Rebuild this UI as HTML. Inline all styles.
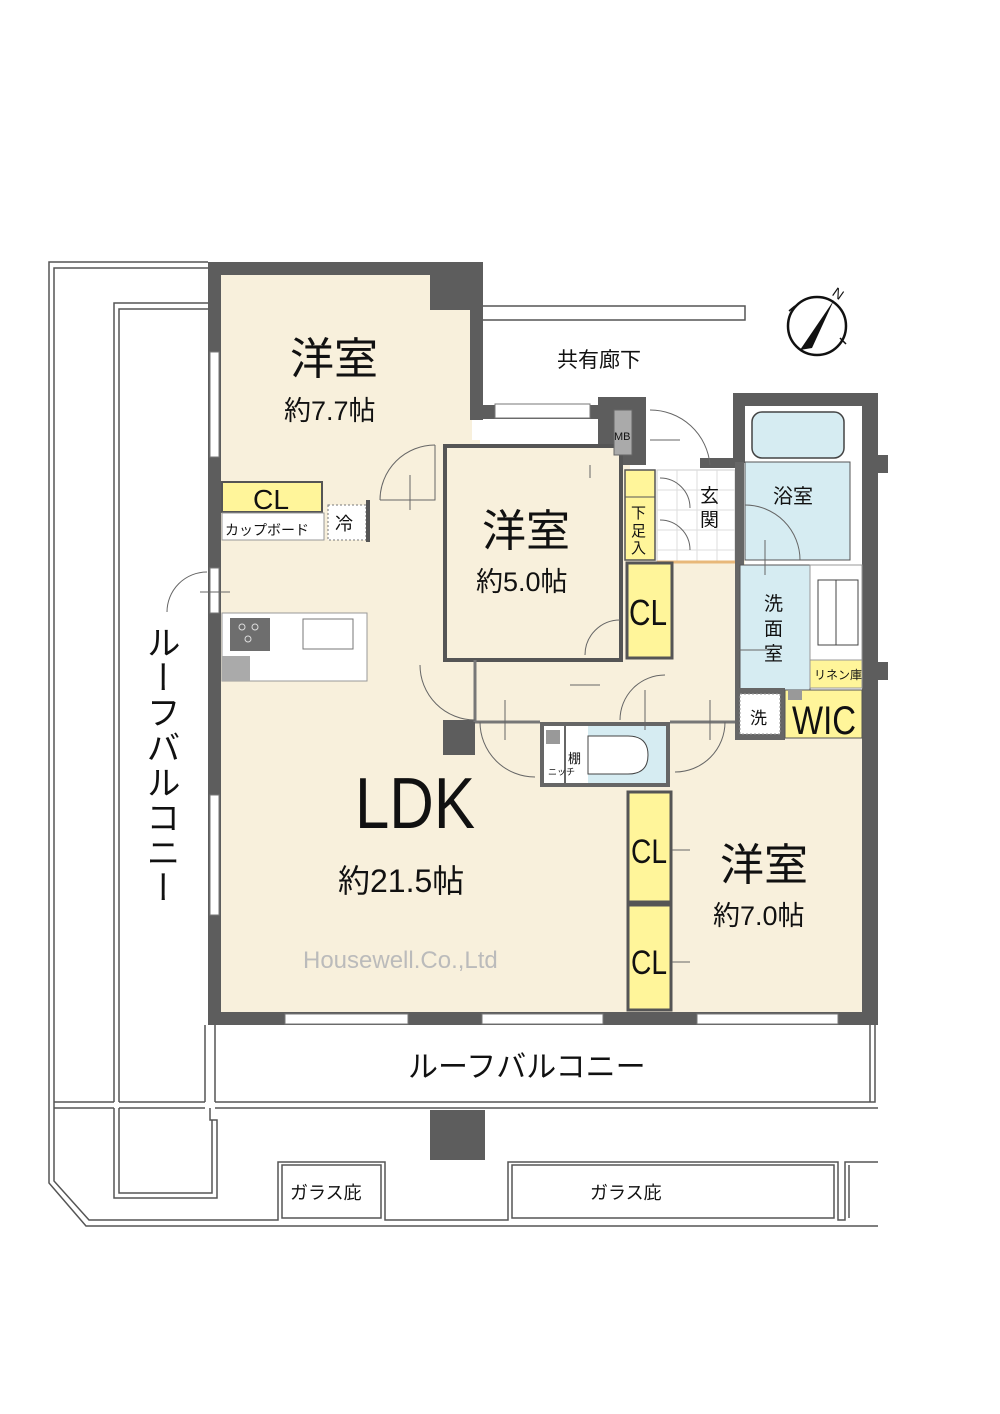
<!DOCTYPE html>
<html><head><meta charset="utf-8"><style>
html,body{margin:0;padding:0;background:#fff}
svg{display:block}
text{font-family:"Liberation Sans","Noto Sans CJK JP",sans-serif;fill:#111}
</style></head><body>
<svg width="1000" height="1414" viewBox="0 0 1000 1414" xmlns="http://www.w3.org/2000/svg">
<g fill="none" stroke="#555" stroke-width="1.5">
<path d="M208 262 H49 V1183 L86 1226 H878"/>
<path d="M208 268 H54 V1181 L89 1220 H278 V1162 H385 V1220 H508 V1162 H838 V1220 H845 V1162 H878"/>
<path d="M208 303 H114 V1102"/>
<path d="M208 309 H119 V1102"/>
<path d="M54 1102 H114 M119 1102 H205 M215 1102 H875 V1025"/>
<path d="M54 1108 H114 M119 1108 H205 M215 1108 H878"/>
<path d="M114 1108 V1198 H217 V1120 H210 V1108"/>
<path d="M119 1108 V1193 H212 V1120"/>
<path d="M205 1025 V1102 M215 1025 V1102"/>
<path d="M870 1025 V1102"/>
<path d="M282 1165 H381 V1218 H282 Z"/>
<path d="M512 1165 H834 V1218 H512 Z"/>
<path d="M849 1165 V1218"/>
<path d="M483 306 H745 V320 H483"/>
</g>
<rect x="220" y="274" width="252" height="560" fill="#f8f0dc"/>
<rect x="220" y="440" width="410" height="575" fill="#f8f0dc"/>
<rect x="620" y="560" width="125" height="170" fill="#f8f0dc"/>
<rect x="620" y="730" width="245" height="285" fill="#f8f0dc"/>
<rect x="480" y="420" width="125" height="25" fill="#fff"/>
<g fill="#5d5d5d">
<rect x="208" y="262" width="13" height="763"/>
<rect x="208" y="262" width="275" height="13"/>
<rect x="430" y="262" width="53" height="48"/>
<rect x="470" y="262" width="13" height="158"/>
<rect x="470" y="405" width="135" height="14"/>
<rect x="598" y="397" width="48" height="68"/>
<rect x="208" y="1012" width="670" height="13"/>
<rect x="862" y="393" width="16" height="632"/>
<rect x="733" y="393" width="145" height="13"/>
<rect x="733" y="393" width="12" height="70"/>
<rect x="700" y="458" width="40" height="10"/>
<rect x="878" y="455" width="10" height="18"/>
<rect x="878" y="662" width="10" height="18"/>
<rect x="443" y="720" width="32" height="35"/>
<rect x="430" y="1110" width="55" height="50"/>
</g>
<g fill="#fff" stroke="#777" stroke-width="1">
<rect x="210" y="352" width="9" height="105"/>
<rect x="210" y="568" width="9" height="45"/>
<rect x="210" y="795" width="9" height="120"/>
<rect x="285" y="1014" width="123" height="10"/>
<rect x="482" y="1014" width="121" height="10"/>
<rect x="697" y="1014" width="141" height="10"/>
<rect x="495" y="404" width="95" height="14"/>
</g>
<rect x="445" y="446" width="176" height="214" fill="#f8f0dc" stroke="#555" stroke-width="4"/>
<rect x="614" y="410" width="18" height="45" fill="#aaa" stroke="#666"/>
<text x="614" y="440" font-size="11">MB</text>
<rect x="657" y="470" width="78" height="92" fill="#fff" stroke="#ccc"/>
<g stroke="#ddd" stroke-width="1"><path d="M657 490H735M657 510H735M657 530H735M657 550H735M677 470V562M697 470V562M717 470V562"/></g>
<line x1="657" y1="562" x2="735" y2="562" stroke="#e8b87a" stroke-width="3"/>
<rect x="625" y="470" width="30" height="90" fill="#fff59a" stroke="#555" stroke-width="1.5"/>
<line x1="625" y1="497" x2="655" y2="497" stroke="#555"/>
<text x="631" y="518" font-size="15">下</text><text x="631" y="536" font-size="15">足</text><text x="631" y="553" font-size="15">入</text>
<text x="700" y="502" font-size="19">玄</text><text x="700" y="526" font-size="19">関</text>
<rect x="735" y="462" width="9" height="260" fill="#666"/>
<rect x="745" y="406" width="117" height="156" fill="#fff"/>
<rect x="745" y="462" width="105" height="98" fill="#d6ecf2" stroke="#555"/>
<rect x="752" y="412" width="92" height="46" rx="10" fill="#d6ecf2" stroke="#444" stroke-width="1.5"/>
<text x="773" y="503" font-size="20">浴室</text>
<rect x="740" y="565" width="70" height="125" fill="#d6ecf2" stroke="#555"/>
<rect x="810" y="565" width="52" height="95" fill="#fff" stroke="#999"/>
<rect x="818" y="580" width="40" height="65" fill="#fff" stroke="#444"/>
<line x1="836" y1="580" x2="836" y2="645" stroke="#444"/>
<rect x="810" y="660" width="52" height="28" fill="#fff59a" stroke="#999"/>
<text x="814" y="679" font-size="12">リネン庫</text>
<text x="764" y="610" font-size="19">洗</text><text x="764" y="635" font-size="19">面</text><text x="764" y="660" font-size="19">室</text>
<rect x="735" y="688" width="50" height="52" fill="#666"/>
<rect x="740" y="694" width="40" height="40" fill="#fff" stroke="#999" stroke-dasharray="2 2"/>
<text x="750" y="724" font-size="17">洗</text>
<rect x="785" y="690" width="77" height="48" fill="#fff59a" stroke="#555"/>
<rect x="788" y="690" width="14" height="10" fill="#999"/>
<text x="792" y="734" font-size="40" textLength="64" lengthAdjust="spacingAndGlyphs">WIC</text>
<g stroke="#777" stroke-width="3"><line x1="475" y1="722" x2="540" y2="722"/><line x1="670" y1="722" x2="735" y2="722"/><line x1="475" y1="660" x2="475" y2="722"/></g>
<rect x="540" y="722" width="130" height="65" fill="#666"/>
<rect x="544" y="726" width="20" height="57" fill="#fff"/>
<rect x="546" y="730" width="14" height="14" fill="#999"/>
<rect x="566" y="726" width="22" height="57" fill="#fff"/>
<rect x="588" y="726" width="78" height="57" fill="#d6ecf2"/>
<path d="M588 736 H628 Q648 736 648 755 Q648 774 628 774 H588 Z" fill="#fff" stroke="#444"/>
<text x="568" y="763" font-size="13">棚</text>
<text x="548" y="775" font-size="9">ニッチ</text>
<rect x="627" y="563" width="45" height="95" fill="#fff59a" stroke="#555" stroke-width="3"/>
<text x="629" y="625" font-size="36" textLength="38" lengthAdjust="spacingAndGlyphs">CL</text>
<rect x="628" y="792" width="43" height="110" fill="#fff59a" stroke="#555" stroke-width="3"/>
<text x="631" y="863" font-size="34" textLength="36" lengthAdjust="spacingAndGlyphs">CL</text>
<rect x="628" y="905" width="43" height="105" fill="#fff59a" stroke="#555" stroke-width="3"/>
<text x="631" y="974" font-size="34" textLength="36" lengthAdjust="spacingAndGlyphs">CL</text>
<rect x="222" y="482" width="100" height="30" fill="#fff59a" stroke="#555" stroke-width="2"/>
<text x="253" y="509" font-size="28" textLength="36" lengthAdjust="spacingAndGlyphs">CL</text>
<rect x="222" y="513" width="102" height="27" fill="#fff" stroke="#999"/>
<text x="225" y="535" font-size="14">カップボード</text>
<rect x="328" y="505" width="38" height="35" fill="#fff" stroke="#777" stroke-dasharray="2 2"/>
<text x="335" y="530" font-size="18">冷</text>
<rect x="366" y="500" width="4" height="42" fill="#555"/>
<rect x="222" y="613" width="145" height="68" fill="#fff" stroke="#999"/>
<rect x="230" y="618" width="40" height="33" fill="#6e6e6e"/>
<circle cx="242" cy="627" r="3" fill="none" stroke="#ddd"/><circle cx="255" cy="627" r="3" fill="none" stroke="#ddd"/><circle cx="248" cy="639" r="3" fill="none" stroke="#ddd"/>
<rect x="303" y="619" width="50" height="30" fill="#fff" stroke="#777"/>
<rect x="222" y="656" width="28" height="25" fill="#aaa"/>
<g fill="none" stroke="#666" stroke-width="1">
<path d="M380 500 A55 55 0 0 1 435 445"/><path d="M435 445 V500 H380"/>
<path d="M167 612 A40 40 0 0 1 207 572"/>
<path d="M585 655 A35 35 0 0 1 620 620"/>
<path d="M420 665 A55 55 0 0 0 475 720"/>
<path d="M480 722 A55 55 0 0 0 535 777"/>
<path d="M620 720 A45 45 0 0 1 665 675"/>
<path d="M675 772 A50 50 0 0 0 725 722"/>
<path d="M745 505 A55 55 0 0 1 800 560"/>
<path d="M650 410 A60 60 0 0 1 710 465"/>
<path d="M660 478 A30 30 0 0 1 690 508 M660 520 A30 30 0 0 1 690 550"/>
<path d="M200 592 H230 M410 475 V510 M590 465 V478 M650 440 H680 M570 685 H600 M505 700 V740 M645 690 V730 M710 700 V740 M765 540 V575 M735 650 H770 M672 850 H690 M672 962 H690"/>
</g>
<text x="290" y="374" font-size="44">洋室</text>
<text x="284" y="420" font-size="27">約7.7帖</text>
<text x="482" y="546" font-size="44">洋室</text>
<text x="476" y="591" font-size="27">約5.0帖</text>
<text x="720" y="880" font-size="44">洋室</text>
<text x="713" y="925" font-size="27">約7.0帖</text>
<text x="355" y="828" font-size="72" textLength="120" lengthAdjust="spacingAndGlyphs">LDK</text>
<text x="338" y="892" font-size="32">約21.5帖</text>
<text x="303" y="968" font-size="24" style="fill:#bbb">Housewell.Co.,Ltd</text>
<text x="557" y="367" font-size="21">共有廊下</text>
<text x="408" y="1077" font-size="30">ルーフバルコニー</text>
<text x="290" y="1199" font-size="18">ガラス庇</text>
<text x="590" y="1199" font-size="18">ガラス庇</text>
<text x="160" y="625" font-size="34" style="writing-mode:vertical-rl;glyph-orientation-vertical:0" letter-spacing="1">ルーフバルコニー</text>
<circle cx="817" cy="326" r="29" fill="none" stroke="#111" stroke-width="2.5"/>
<path d="M834 300 L800 350 L812 348 Z" fill="#111"/>
<path d="M789 311 L795 306 M840 338 L846 344" stroke="#111" stroke-width="1.5"/>
<text x="834" y="298" font-size="14" transform="rotate(35 838 292)">N</text>
</svg>
</body></html>
